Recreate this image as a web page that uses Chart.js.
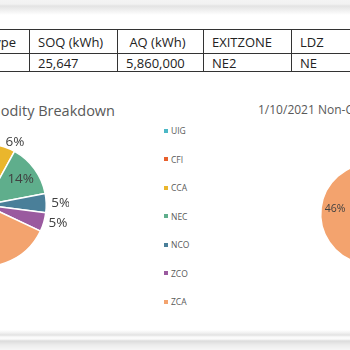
<!DOCTYPE html>
<html>
<head>
<meta charset="utf-8">
<script src="https://cdn.jsdelivr.net/npm/chart.js@4.4.0/dist/chart.umd.min.js"></script>
<style>
	body { margin: 0; width: 350px; height: 350px; overflow: hidden; position: relative; background: #fff; font-family: 'Open Sans', sans-serif; color: #222; }
	.top-shade { position: absolute; left: 0; top: 0; width: 350px; height: 15px; background: linear-gradient(#f4f4f4 0px, #f2f2f2 4px, #e3e3e3 6px, #f2f2f2 11px, #fff 15px); }
	.bottom-shade { position: absolute; left: 0; top: 330px; width: 350px; height: 20px; background: linear-gradient(#fff 0px, #f0f0f0 3px, #e2e2e2 5px, #fafafa 7px, #fbfbfb 9px, #dcdcdc 11px, #ececec 15px, #f6f6f6 20px); }
	table { position: absolute; left: -30px; top: 29px; border-collapse: collapse; table-layout: fixed; width: 420px; font-size: 13px; }
	td { border: 1px solid #333; height: 23px; padding: 0 0 0 8px; white-space: nowrap; overflow: hidden; line-height: 14px; }
	tr.data td { height: 17px; }
	.title { position: absolute; font-size: 14.5px; color: #595959; white-space: nowrap; }
	.legend { position: absolute; left: 164px; top: 0; font-size: 8.5px; color: #595959; }
	.legend div { position: absolute; white-space: nowrap; }
	.legend span { display: inline-block; width: 4px; height: 4px; margin-right: 3px; vertical-align: middle; position: relative; top: -1px; }
	canvas { position: absolute; }
</style>
</head>
<body>
<div class="top-shade"></div>
<div class="bottom-shade"></div>
<table>
	<colgroup><col style="width:59px"><col style="width:88px"><col style="width:86px"><col style="width:88px"><col style="width:99px"></colgroup>
	<tr><td style="padding-left:16px">Type</td><td>SOQ (kWh)</td><td>&nbsp;AQ (kWh)</td><td>EXITZONE</td><td>LDZ</td></tr>
	<tr class="data"><td></td><td>25,647</td><td>5,860,000</td><td>NE2</td><td>NE</td></tr>
</table>
<div class="title" style="left:-200px; width:315px; text-align:right; top:101px;">Commodity Breakdown</div>
<div class="title" style="left:258px; top:101px; font-size:12px;">1/10/2021 Non-Commodity Breakdown</div>
<div class="legend" id="legend"></div>
<canvas id="pieLeft" width="168" height="168" style="left:-99px; top:121px;"></canvas>
<canvas id="pieRight" width="142" height="142" style="left:300px; top:143px;"></canvas>
<script>
const categories = ['UIG', 'CFI', 'CCA', 'NEC', 'NCO', 'ZCO', 'ZCA'];
const colors = ['#4bb8c6', '#e8602c', '#eab62c', '#5fae8c', '#4a7f99', '#9a5a9f', '#f3a36e'];
// percent shares
const commodity = [1, 1, 6, 14, 5, 5, 68];
const nonCommodity = [2, 1, 10, 25, 8, 8, 46];

// percentage labels, small slices outside, big ones inside
const pctLabels = {
	id: 'pctLabels',
	afterDatasetsDraw(chart, args, opts) {
		const ctx = chart.ctx;
		const values = chart.data.datasets[0].data;
		const total = values.reduce((a, b) => a + b, 0);
		chart.getDatasetMeta(0).data.forEach((arc, i) => {
			const pct = values[i] / total;
			if (pct < 0.03) return;
			const mid = (arc.startAngle + arc.endAngle) / 2;
			const cos = Math.cos(mid), sin = Math.sin(mid);
			ctx.save();
			ctx.font = opts.size + 'px "Open Sans", sans-serif';
			ctx.fillStyle = '#404040';
			ctx.textBaseline = 'middle';
			if (pct < 0.08) {
				const r = arc.outerRadius + 5;
				ctx.textAlign = cos >= 0 ? 'left' : 'right';
				ctx.fillText(Math.round(pct * 100) + '%', arc.x + r * cos, arc.y + r * sin);
			} else {
				const r = arc.outerRadius * 0.72;
				ctx.textAlign = 'center';
				ctx.fillText(Math.round(pct * 100) + '%', arc.x + r * cos, arc.y + r * sin);
			}
			ctx.restore();
		});
	}
};

function pieConfig(values, pad, labelSize) {
	return {
		type: 'pie',
		data: {
			labels: categories,
			datasets: [{
				data: values,
				backgroundColor: colors,
				borderColor: '#fff',
				borderWidth: 1.5,
			}]
		},
		options: {
			responsive: false,
			animation: false,
			layout: { padding: pad },
			plugins: {
				legend: { display: false },
				title: { display: false },
				tooltip: { enabled: false },
				pctLabels: { size: labelSize }
			}
		},
		plugins: [pctLabels]
	};
}

new Chart(document.getElementById('pieLeft'), pieConfig(commodity, 22, 13.5));
new Chart(document.getElementById('pieRight'), pieConfig(nonCommodity, 20, 10.5));

const legend = document.getElementById('legend');
categories.forEach((name, i) => {
	const item = document.createElement('div');
	item.style.top = (125 + i * 28.5) + 'px';
	item.innerHTML = '<span style="background:' + colors[i] + '"></span>' + name;
	legend.appendChild(item);
});
</script>
</body>
</html>
